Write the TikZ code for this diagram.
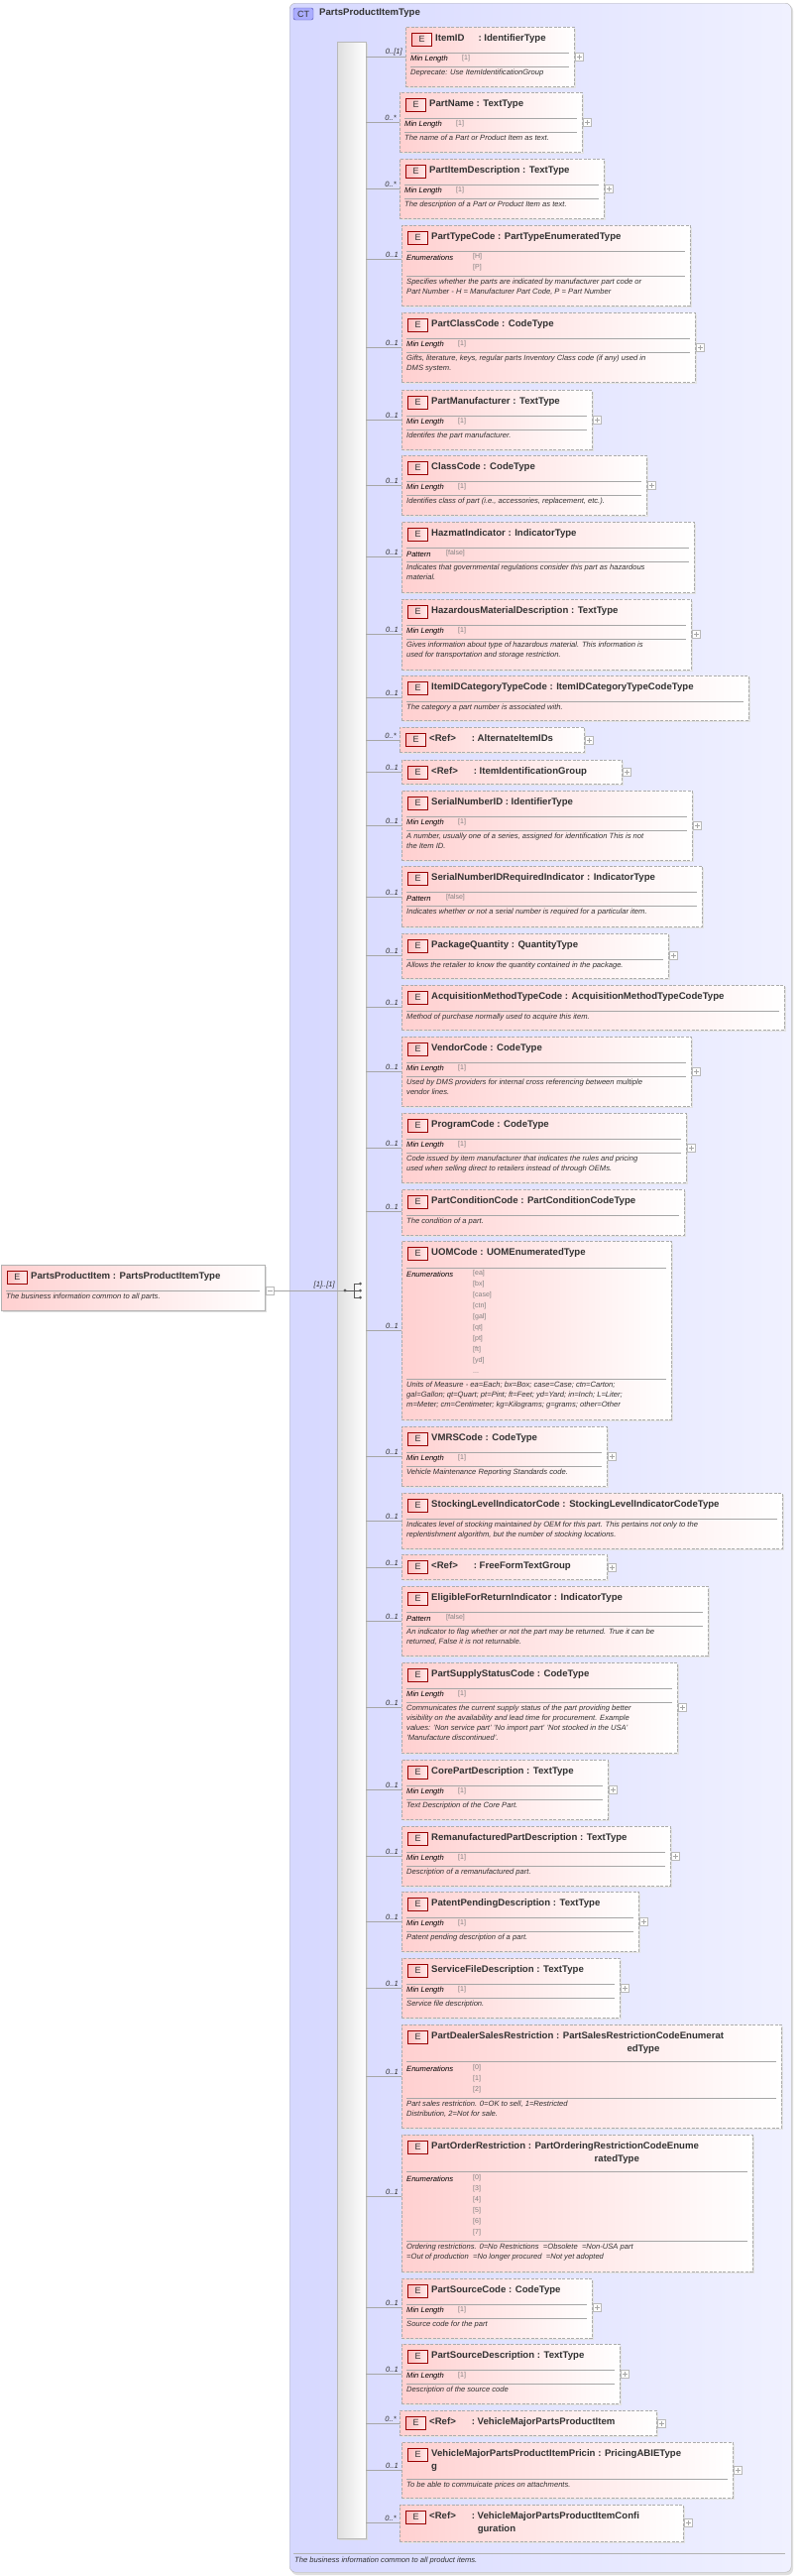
\documentclass[tikz,border=0pt]{standalone}
\usepackage{fontspec}
\setmainfont{Liberation Sans}
\begin{document}
\definecolor{pinkl}{RGB}{255,208,208}
\definecolor{ctl}{RGB}{214,216,255}
\definecolor{ctr}{RGB}{240,241,255}
\definecolor{txt}{RGB}{50,50,50}
\tikzset{
 ebox/.style={draw=gray!65,dash pattern=on 3pt off 1.5pt,left color=pinkl,right color=white,inner sep=0},
 badge/.style={draw=red!60!black,left color=red!25,right color=red!8,minimum width=20pt,minimum height=13pt,inner sep=0,font=\fontsize{9}{10}\selectfont,text=txt},
 etitle/.style={anchor=base west,inner sep=0,font=\fontsize{9.6}{12.5}\selectfont\bfseries,text=txt},
 fac/.style={anchor=west,inner sep=0,font=\fontsize{7.6}{9}\selectfont\itshape},
 facv/.style={anchor=north west,inner sep=0,align=left,font=\fontsize{7}{11}\selectfont,text=gray},
 dsc/.style={anchor=north west,inner sep=0,align=left,font=\fontsize{7.6}{10}\selectfont\itshape,text=txt},
 sepc/.style={gray!70},
 conn/.style={gray!70},
 mult/.style={anchor=south east,inner sep=0,font=\fontsize{7.6}{9}\selectfont\itshape,text=txt},
 plusbox/.style={draw=gray!55,fill=white,minimum size=8pt,inner sep=0,
   path picture={\draw[gray!70] ([xshift=1.5pt]path picture bounding box.west) -- ([xshift=-1.5pt]path picture bounding box.east);
   \draw[gray!70] ([yshift=-1.5pt]path picture bounding box.north) -- ([yshift=1.5pt]path picture bounding box.south);}},
}
\newcommand\elm[9]{%
 \pgfmathsetmacro\w{#4-#2}\pgfmathsetmacro\h{#5-#3}%
 \fill[gray!22] (#2+2,-#3-2) rectangle (#4+2,-#5-2);
 \node[ebox,minimum width=\w pt,minimum height=\h pt,anchor=north west] (#1) at (#2,-#3) {};
 \begin{scope}[shift={(#2,-#3)}]
  \node[badge] (#1b) at (16.5,-12.5) {E};
  \node[etitle] (#1t) at (30,-14.5) {#8};
  #9
 \end{scope}
 \coordinate (#1c) at (369,-#6);
 \draw[conn] (#1c) -- (#1c -| #1.west);
 \node[mult] (#1m) at (#2-3,-#6+1) {#7};
}
\newcommand\pls[1]{\node[plusbox,xshift=5pt] (#1p) at (#1.east |- #1c) {};}
\newcommand\sep[1]{\draw[sepc] (5,-#1) -- (\w-5,-#1);}
\newcommand\fac[4]{\node[fac] at (5,-#1) {#2}; \node[facv] at (#3,-#1+4.5) {#4};}
\newcommand\desc[2]{\node[dsc] at (5,-#1+5) {#2};}
\newcommand\ml[1]{\sep{26}\fac{33}{Min Length}{57}{[1]}\sep{40}\desc{48}{#1}}
\newcommand\pat[1]{\sep{26}\fac{33}{Pattern}{45}{[false]}\sep{40}\desc{48}{#1}}
\newcommand\rf{<Ref>\hspace{16pt}:\ }
\newcommand\nl{\\\relax}
\begin{tikzpicture}[x=1pt,y=1pt]
\useasboundingbox (0,0) rectangle (808,-2597);
\fill[white] (0,0) rectangle (808,-2597);
% complex type
\fill[gray!25,rounded corners=6pt] (294,-5) rectangle (800,-2596);
\node[draw=gray!60,rounded corners=6pt,left color=ctl,right color=ctr,minimum width=506pt,minimum height=2590pt,anchor=north west,inner sep=0] (ct) at (292,-3) {};
\node[draw=blue!40!gray,fill=ctl!80!blue,rounded corners=2pt,minimum width=20pt,minimum height=12pt,inner sep=0,font=\fontsize{9}{10}\selectfont,text=txt] (ctb) at (306,-14) {CT};
\node[anchor=west,inner sep=0,font=\fontsize{9.6}{11}\selectfont\bfseries,text=txt] (ctt) at (322,-13.5) {PartsProductItemType};
\draw[gray!60] (296,-2574) coordinate (fl) -- (792,-2574) coordinate (fr);
\node[anchor=west,inner sep=0,font=\fontsize{7.6}{9}\selectfont\itshape,text=txt] (ctd) at (297,-2582) {The business information common to all product items.};
% sequence bar
\fill[gray!30] (342,-44) rectangle (371,-2561);
\node[draw=gray!55,left color=gray!25,right color=white,minimum width=29pt,minimum height=2517pt,anchor=north west,inner sep=0] (bar) at (340,-42) {};
% left element
\fill[gray!25] (3,-1277) rectangle (269,-1323);
\node[draw=gray!60,left color=pinkl,right color=white,minimum width=266pt,minimum height=46pt,anchor=north west,inner sep=0] (root) at (1,-1275) {};
\node[badge] (rootb) at (17.5,-1287.5) {E};
\node[etitle] (roott) at (31,-1289.5) {PartsProductItem : PartsProductItemType};
\draw[sepc] (6,-1301) -- (262,-1301);
\node[dsc] (rootd) at (6,-1304) {The business information common to all parts.};
\node[draw=gray!55,fill=white,minimum size=8pt,inner sep=0,
  path picture={\draw[gray!70] ([xshift=1.5pt]path picture bounding box.west) -- ([xshift=-1.5pt]path picture bounding box.east);}] (rootm) at (272,-1301) {};
\coordinate (seqin) at (348,-1301);
\draw[conn] (rootm.east) -- (seqin);
\node[mult] (rootmul) at (338,-1299) {[1]..[1]};
% compositor symbol
\fill[gray!70!black] (seqin) circle (1.6pt);
\draw[gray!70!black] (seqin) -- (357,-1301);
\draw[gray!70!black] (357,-1294) -- (357,-1308);
\foreach \yy in {1294,1301,1308}{\draw[gray!70!black] (357,-\yy) -- (363,-\yy); \fill[gray!70!black] (363.5,-\yy) circle (1.5pt);}
% elements
\elm{itemid}{409}{27}{579}{87}{57}{0..[1]}{ItemID\hspace{14pt}: IdentifierType}{\ml{Deprecate: Use ItemIdentificationGroup}}\pls{itemid}
\elm{partname}{403}{93}{587}{153}{123}{0..*}{PartName : TextType}{\ml{The name of a Part or Product Item as text.}}\pls{partname}
\elm{partitemdesc}{403}{160}{609}{220}{190}{0..*}{PartItemDescription : TextType}{\ml{The description of a Part or Product Item as text.}}\pls{partitemdesc}
\elm{parttype}{405}{227}{696}{308}{261}{0..1}{PartTypeCode : PartTypeEnumeratedType}{\sep{26}\fac{33}{Enumerations}{72}{[H]\nl[P]}\sep{51}\desc{59}{Specifies whether the parts are indicated by manufacturer part code or\\Part Number - H = Manufacturer Part Code, P = Part Number}}
\elm{partclass}{405}{315}{701}{385}{350}{0..1}{PartClassCode : CodeType}{\ml{Gifts, literature, keys, regular parts Inventory Class code (if any) used in\\DMS system.}}\pls{partclass}
\elm{partmanu}{405}{393}{597}{453}{423}{0..1}{PartManufacturer : TextType}{\ml{Identifes the part manufacturer.}}\pls{partmanu}
\elm{classcode}{405}{459}{652}{519}{489}{0..1}{ClassCode : CodeType}{\ml{Identifies class of part (i.e., accessories, replacement, etc.).}}\pls{classcode}
\elm{hazmat}{405}{526}{700}{597}{561}{0..1}{HazmatIndicator : IndicatorType}{\pat{Indicates that governmental regulations consider this part as hazardous\\material.}}
\elm{hazdesc}{405}{604}{697}{675}{639}{0..1}{HazardousMaterialDescription : TextType}{\ml{Gives information about type of hazardous material. This information is\\used for transportation and storage restriction.}}\pls{hazdesc}
\elm{itemidcat}{405}{681}{755}{726}{703}{0..1}{ItemIDCategoryTypeCode : ItemIDCategoryTypeCodeType}{\sep{26}\desc{34}{The category a part number is associated with.}}
\elm{altids}{403}{733}{589}{758}{746}{0..*}{\rf AlternateItemIDs}{}\pls{altids}
\elm{itemidgrp}{405}{766}{627}{790}{778}{0..1}{\rf ItemIdentificationGroup}{}\pls{itemidgrp}
\elm{serial}{405}{797}{698}{867}{832}{0..1}{SerialNumberID : IdentifierType}{\ml{A number, usually one of a series, assigned for identification This is not\\the Item ID.}}\pls{serial}
\elm{serialreq}{405}{873}{708}{934}{904}{0..1}{SerialNumberIDRequiredIndicator : IndicatorType}{\pat{Indicates whether or not a serial number is required for a particular item.}}
\elm{pkgqty}{405}{941}{674}{986}{963}{0..1}{PackageQuantity : QuantityType}{\sep{26}\desc{34}{Allows the retailer to know the quantity contained in the package.}}\pls{pkgqty}
\elm{acq}{405}{993}{791}{1038}{1015}{0..1}{AcquisitionMethodTypeCode : AcquisitionMethodTypeCodeType}{\sep{26}\desc{34}{Method of purchase normally used to acquire this item.}}
\elm{vendor}{405}{1045}{697}{1115}{1080}{0..1}{VendorCode : CodeType}{\ml{Used by DMS providers for internal cross referencing between multiple\\vendor lines.}}\pls{vendor}
\elm{program}{405}{1122}{692}{1192}{1157}{0..1}{ProgramCode : CodeType}{\ml{Code issued by item manufacturer that indicates the rules and pricing\\used when selling direct to retailers instead of through OEMs.}}\pls{program}
\elm{condition}{405}{1199}{690}{1245}{1221}{0..1}{PartConditionCode : PartConditionCodeType}{\sep{26}\desc{34}{The condition of a part.}}
\elm{uom}{405}{1251}{677}{1431}{1341}{0..1}{UOMCode : UOMEnumeratedType}{\sep{27}\fac{34}{Enumerations}{72}{[ea]\nl[bx]\nl[case]\nl[ctn]\nl[gal]\nl[qt]\nl[pt]\nl[ft]\nl[yd]\nl...}\sep{139}\desc{147}{Units of Measure - ea=Each; bx=Box; case=Case; ctn=Carton;\\gal=Gallon; qt=Quart; pt=Pint; ft=Feet; yd=Yard; in=Inch; L=Liter;\\m=Meter; cm=Centimeter; kg=Kilograms; g=grams; other=Other}}
\elm{vmrs}{405}{1438}{612}{1498}{1468}{0..1}{VMRSCode : CodeType}{\ml{Vehicle Maintenance Reporting Standards code.}}\pls{vmrs}
\elm{stocking}{405}{1505}{789}{1561}{1533}{0..1}{StockingLevelIndicatorCode : StockingLevelIndicatorCodeType}{\sep{26}\desc{34}{Indicates level of stocking maintained by OEM for this part. This pertains not only to the\\replentishment algorithm, but the number of stocking locations.}}
\elm{freeform}{405}{1567}{612}{1592}{1580}{0..1}{\rf FreeFormTextGroup}{}\pls{freeform}
\elm{eligible}{405}{1599}{714}{1669}{1634}{0..1}{EligibleForReturnIndicator : IndicatorType}{\pat{An indicator to flag whether or not the part may be returned. True it can be\\returned, False it is not returnable.}}
\elm{supply}{405}{1676}{683}{1767}{1721}{0..1}{PartSupplyStatusCode : CodeType}{\ml{Communicates the current supply status of the part providing better\\visibility on the availability and lead time for procurement. Example\\values: 'Non service part' 'No import part' 'Not stocked in the USA'\\'Manufacture discontinued'.}}\pls{supply}
\elm{corepart}{405}{1774}{613}{1834}{1804}{0..1}{CorePartDescription : TextType}{\ml{Text Description of the Core Part.}}\pls{corepart}
\elm{reman}{405}{1841}{676}{1901}{1871}{0..1}{RemanufacturedPartDescription : TextType}{\ml{Description of a remanufactured part.}}\pls{reman}
\elm{patent}{405}{1907}{644}{1967}{1937}{0..1}{PatentPendingDescription : TextType}{\ml{Patent pending description of a part.}}\pls{patent}
\elm{servfile}{405}{1974}{625}{2034}{2004}{0..1}{ServiceFileDescription : TextType}{\ml{Service file description.}}\pls{servfile}
\elm{dealer}{405}{2041}{788}{2145}{2093}{0..1}{PartDealerSalesRestriction : \begin{tabular}[t]{@{}c@{}}PartSalesRestrictionCodeEnumerat\\edType\end{tabular}}{\sep{37}\fac{45}{Enumerations}{72}{[0]\nl[1]\nl[2]}\sep{74}\desc{82}{Part sales restriction. 0=OK to sell, 1=Restricted\\Distribution, 2=Not for sale.}}
\elm{order}{405}{2152}{759}{2290}{2214}{0..1}{PartOrderRestriction : \begin{tabular}[t]{@{}c@{}}PartOrderingRestrictionCodeEnume\\ratedType\end{tabular}}{\sep{37}\fac{45}{Enumerations}{72}{[0]\nl[3]\nl[4]\nl[5]\nl[6]\nl[7]}\sep{107}\desc{115}{Ordering restrictions. 0=No Restrictions \ =Obsolete \ =Non-USA part\\=Out of production \ =No longer procured \ =Not yet adopted}}
\elm{srccode}{405}{2297}{597}{2357}{2326}{0..1}{PartSourceCode : CodeType}{\ml{Source code for the part}}\pls{srccode}
\elm{srcdesc}{405}{2363}{625}{2423}{2393}{0..1}{PartSourceDescription : TextType}{\ml{Description of the source code}}\pls{srcdesc}
\elm{vmppi}{403}{2430}{662}{2455}{2443}{0..*}{\rf VehicleMajorPartsProductItem}{}\pls{vmppi}
\elm{pricing}{405}{2462}{739}{2518}{2490}{0..1}{\begin{tabular}[t]{@{}l@{}}VehicleMajorPartsProductItemPricin\\g\end{tabular} : PricingABIEType}{\sep{37}\desc{45}{To be able to commuicate prices on attachments.}}\pls{pricing}
\elm{config}{403}{2525}{689}{2562}{2543}{0..*}{\rf\begin{tabular}[t]{@{}l@{}}VehicleMajorPartsProductItemConfi\\guration\end{tabular}}{}\pls{config}
\end{tikzpicture}
\end{document}
